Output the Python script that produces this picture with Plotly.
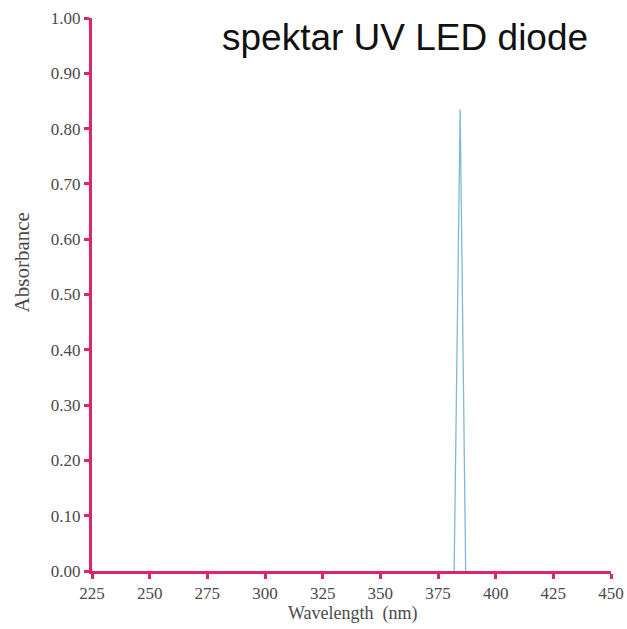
import plotly.graph_objects as go

# Emission spectrum of the UV LED
wavelength_nm = [382.0, 384.6, 387.0]
absorbance = [0.0, 0.835, 0.0]

x_ticks = [225, 250, 275, 300, 325, 350, 375, 400, 425, 450]
y_ticks = [0.0, 0.1, 0.2, 0.3, 0.4, 0.5, 0.6, 0.7, 0.8, 0.9, 1.0]

axis_pink = "#e0246c"
label_grey = "#4a4a4a"

fig = go.Figure()
fig.add_trace(go.Scatter(
    x=wavelength_nm, y=absorbance, mode="lines",
    line=dict(color="#7fb8dc", width=1.3),
    showlegend=False, hoverinfo="skip",
))

fig.update_layout(
    width=627, height=629,
    margin=dict(l=92, r=16, t=18, b=58),
    paper_bgcolor="white", plot_bgcolor="white",
    font=dict(family="Liberation Serif", color=label_grey, size=17),
    annotations=[
        dict(text="spektar UV LED diode", xref="paper", yref="paper",
             x=0.247, y=1.0, xanchor="left", yanchor="top", yshift=3, showarrow=False,
             font=dict(family="Liberation Sans", size=37, color="#111111")),
        dict(text="Wavelength  (nm)", xref="paper", yref="paper",
             x=0.502, y=0, xanchor="center", yanchor="middle", yshift=-42, showarrow=False,
             font=dict(size=18, color=label_grey)),
        dict(text="Absorbance", xref="paper", yref="paper", textangle=-90,
             x=0, y=0.558, xanchor="center", yanchor="middle", xshift=-70, showarrow=False,
             font=dict(size=21, color=label_grey)),
    ],
)
fig.update_xaxes(
    range=[225, 450], tickvals=x_ticks, ticktext=[str(v) for v in x_ticks],
    showgrid=False, zeroline=False, showline=True, linecolor=axis_pink, linewidth=3,
    ticks="outside", ticklen=5, tickwidth=3, tickcolor=axis_pink, automargin=False,
    tickfont=dict(size=17, color=label_grey),
)
fig.update_yaxes(
    range=[0, 1.0], tickvals=y_ticks, ticktext=[f"{v:.2f}" for v in y_ticks],
    showgrid=False, zeroline=False, showline=True, linecolor=axis_pink, linewidth=3,
    ticks="outside", ticklen=5, tickwidth=3, tickcolor=axis_pink, automargin=False,
    tickfont=dict(size=17, color=label_grey),
)

fig.write_html("out.html")
